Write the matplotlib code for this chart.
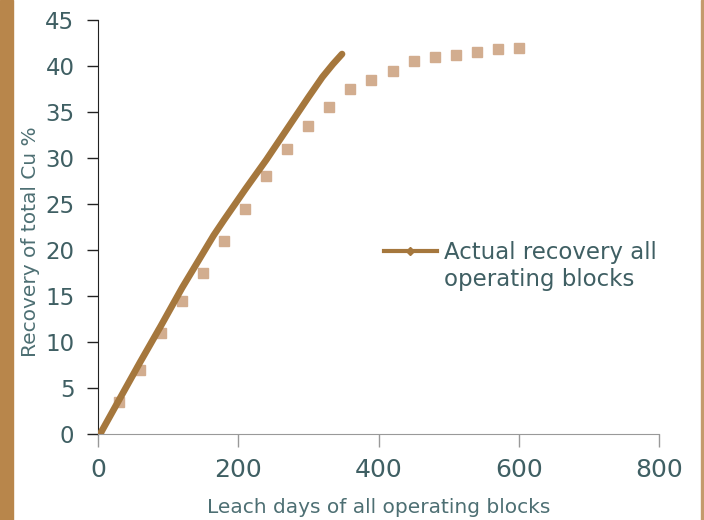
import matplotlib.pyplot as plt
from matplotlib.lines import Line2D
from matplotlib.patches import Rectangle
from matplotlib.legend_handler import HandlerLine2D

# Actual recovery (line)
actual_days = [3, 30, 60, 90, 120, 150, 165, 180, 210, 240, 270, 300, 320, 335, 348]
actual_rec = [0.0, 3.7, 7.8, 11.8, 15.9, 19.7, 21.6, 23.3, 26.6, 29.8, 33.2, 36.6,
              38.8, 40.2, 41.3]

# Predicted recovery (squares)
pred_days = [0, 30, 60, 90, 120, 150, 180, 210, 240, 270, 300, 330, 360, 390,
             420, 450, 480, 510, 540, 570, 600]
pred_rec = [0.0, 3.5, 7.0, 11.0, 14.5, 17.5, 21.0, 24.5, 28.0, 31.0, 33.5, 35.5,
            37.5, 38.5, 39.5, 40.5, 41.0, 41.2, 41.5, 41.8, 42.0]

line_color = '#a5773d'
square_color = '#d2ad8f'
text_color = '#3f5f63'


class FirstLineHandler(HandlerLine2D):
    # put the legend line next to the first line of a two-line label
    def create_artists(self, legend, orig_handle, xdescent, ydescent,
                       width, height, fontsize, trans):
        artists = super().create_artists(legend, orig_handle, xdescent, ydescent,
                                         width, height, fontsize, trans)
        for a in artists:
            a.set_ydata([y + 11.5 for y in a.get_ydata()])
        return artists


fig = plt.figure(figsize=(7.04, 5.20), dpi=100)
ax = fig.add_axes([98 / 704, 1 - 434 / 520, 561 / 704, 414 / 520])

# brown side strips
fig.patches.append(Rectangle((0, 0), 13 / 704, 1, transform=fig.transFigure,
                             color='#b8864b', zorder=-1))
fig.patches.append(Rectangle((701 / 704, 0), 3 / 704, 1, transform=fig.transFigure,
                             color='#c49a6c', zorder=-1))

ax.plot(pred_days, pred_rec, linestyle='none', marker='s', ms=6.8,
        color=square_color, zorder=2)
ax.plot(actual_days, actual_rec, color=line_color, lw=4.8,
        solid_capstyle='round', solid_joinstyle='round', zorder=3)

ax.set_xlim(0, 800)
ax.set_ylim(0, 45)
ax.set_xticks([0, 200, 400, 600, 800])
ax.set_yticks(range(0, 50, 5))

for s in ['top', 'right']:
    ax.spines[s].set_visible(False)
ax.spines['left'].set_color('#222222')
ax.spines['bottom'].set_color('#999999')
ax.tick_params(axis='y', colors='#222222', labelcolor=text_color, labelsize=16.5,
               length=8, width=1, pad=9)
ax.tick_params(axis='x', colors='#999999', labelcolor=text_color, labelsize=18,
               length=9, width=1, pad=8)

ax.set_xlabel('Leach days of all operating blocks', fontsize=14.5,
              color='#4d6f73', labelpad=12)
ax.set_ylabel('Recovery of total Cu %', fontsize=14.5, color='#4d6f73')
ax.yaxis.set_label_coords(-0.103, 0.465)

handle = Line2D([], [], color=line_color, lw=3, marker='D', ms=4.5)
ax.legend([handle], ['Actual recovery all\noperating blocks'], frameon=False,
          loc='center left', bbox_to_anchor=(384 / 704, 1 - 266 / 520),
          bbox_transform=fig.transFigure, fontsize=16.5, labelcolor=text_color,
          borderpad=0, borderaxespad=0, handlelength=2.3, handletextpad=0.3,
          labelspacing=0.1, handler_map={Line2D: FirstLineHandler()})

fig.savefig('out.png', dpi=100)
